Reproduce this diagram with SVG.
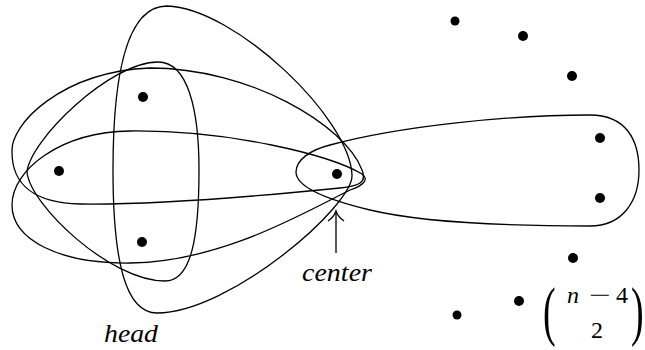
<svg xmlns="http://www.w3.org/2000/svg" width="645" height="350" viewBox="0 0 645 350">
  <defs>
    <style>
      .edge { fill: none; stroke: #000; stroke-width: 1.3; }
      .dot { fill: #000; }
      .serif { font-family: 'Liberation Serif', 'DejaVu Serif', serif; }
    </style>
  </defs>
  <rect width="645" height="350" fill="#fff"/>

  <g id="connectors">
    <path id="edge-A" class="edge" d="M167,6 C235,8 350,118 352,175 C354,205 230,313 157,313 C125,313 113,260 113,170 C113,80 125,6 167,6 Z"/>
    <path id="edge-B" class="edge" d="M158,62 C188,62 199,110 199,170 C199,235 192,281 165,281 C110,281 30,205 27,172 C30,140 110,62 158,62 Z"/>
    <path id="edge-D" class="edge" d="M150,68 C250,68 345,125 362,170 C367,182 360,186 340,188 C260,196 150,205 80,204 C35,203 12,185 12,152 C10,125 60,72 150,68 Z"/>
    <path id="edge-E" class="edge" d="M12,205 C12,170 60,132 130,131 C230,130 330,155 362,174 C370,180 362,186 350,190 C300,215 220,262 130,263 C60,264 12,240 12,205 Z"/>
    <path id="edge-F" class="edge" d="M590,115 C626,115 639,140 639,170 C639,202 622,226 590,226 C510,226 420,222 370,210 C320,198 296,185 296,172 C296,160 310,150 330,145 C400,126 510,115 590,115 Z"/>
    <g id="arrow-center">
      <line class="edge" x1="336" y1="253" x2="336" y2="212"/>
      <path class="edge" d="M328,221 Q334,217 336,211 Q338,217 344,221"/>
    </g>
  </g>

  <g id="v-head1"><circle class="dot" cx="143" cy="97" r="5"/></g>
  <g id="v-head2"><circle class="dot" cx="59" cy="171" r="5"/></g>
  <g id="v-head3"><circle class="dot" cx="142" cy="242" r="5"/></g>
  <g id="v-center"><circle class="dot" cx="337" cy="174" r="5"/></g>
  <g id="v-r1"><circle class="dot" cx="600" cy="138" r="5"/></g>
  <g id="v-r2"><circle class="dot" cx="600" cy="198" r="5"/></g>
  <g id="v-o1"><circle class="dot" cx="455" cy="21" r="4.5"/></g>
  <g id="v-o2"><circle class="dot" cx="523" cy="36" r="5"/></g>
  <g id="v-o3"><circle class="dot" cx="572" cy="76" r="5"/></g>
  <g id="v-o4"><circle class="dot" cx="573" cy="258" r="5"/></g>
  <g id="v-o5"><circle class="dot" cx="519" cy="301" r="5"/></g>
  <g id="v-o6"><circle class="dot" cx="457" cy="315" r="4.5"/></g>

  <g id="label-center"><text class="serif" x="302" y="281" style="font-style:italic;font-size:26px" textLength="70" lengthAdjust="spacingAndGlyphs">center</text></g>
  <g id="label-head"><text class="serif" x="104" y="342" style="font-style:italic;font-size:26px" textLength="54" lengthAdjust="spacingAndGlyphs">head</text></g>

  <g id="label-binom">
    <text class="serif" transform="translate(543,333) scale(1,1.75)" style="font-size:38px">(</text>
    <text class="serif" x="567" y="303" style="font-style:italic;font-size:24px">n</text>
    <text class="serif" x="589" y="303" style="font-size:24px" textLength="22" lengthAdjust="spacingAndGlyphs">−</text>
    <text class="serif" x="616" y="303" style="font-size:24px">4</text>
    <text class="serif" x="591" y="338" style="font-size:24px">2</text>
    <text class="serif" transform="translate(631,333) scale(1,1.75)" style="font-size:38px">)</text>
  </g>
</svg>
